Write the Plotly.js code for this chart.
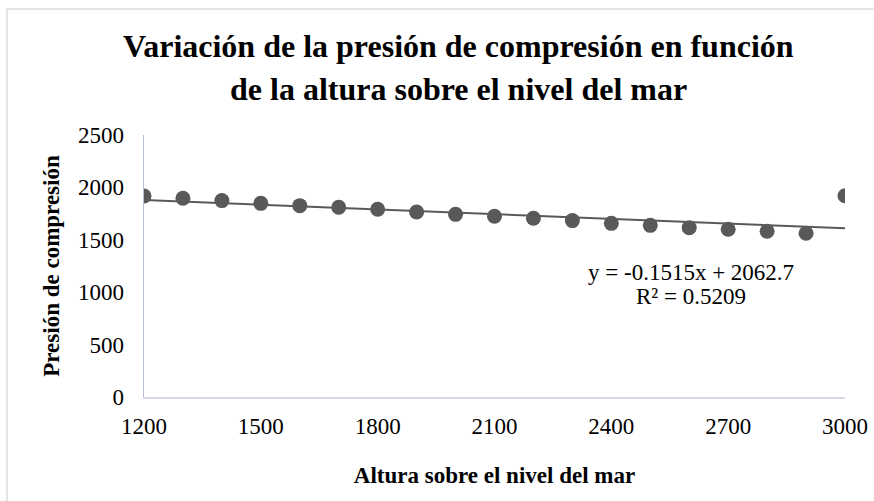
<!DOCTYPE html>
<html>
<head>
<meta charset="utf-8">
<script src="https://cdn.plot.ly/plotly-3.0.1.min.js"></script>
<style>
  html, body { margin: 0; padding: 0; background: #ffffff; overflow: hidden; }
  #wrap { position: relative; width: 874px; height: 501px; overflow: hidden; }
  #chart { position: absolute; left: 0; top: 0; width: 874px; height: 501px; }
  #frame { position: absolute; left: 6px; top: 8px; width: 900px; height: 520px;
           border-left: 2px solid #e2e6eb; border-top: 2px solid #e2e6eb; pointer-events: none; }
</style>
</head>
<body>
<div id="wrap">
  <div id="chart"></div>
  <div id="frame"></div>
</div>
<script>
// ---- data ----
const altitudes = [1200, 1300, 1400, 1500, 1600, 1700, 1800, 1900, 2000, 2100,
                   2200, 2300, 2400, 2500, 2600, 2700, 2800, 2900, 3000];
const pressures = [1918, 1896, 1874, 1848, 1826, 1810, 1791, 1765, 1743, 1724,
                   1705, 1683, 1657, 1638, 1616, 1600, 1581, 1562, 1921];
const titleLines = ["Variación de la presión de compresión en función",
                    "de la altura sobre el nivel del mar"];
const xAxisTitle = "Altura sobre el nivel del mar";
const yAxisTitle = "Presión de compresión";
const equationLines = ["y = -0.1515x + 2062.7", "R² = 0.5209"];
const xTicks = [1200, 1500, 1800, 2100, 2400, 2700, 3000];
const yTicks = [0, 500, 1000, 1500, 2000, 2500];

// ---- linear trend line (least squares from the data) ----
const n = altitudes.length;
const mx = altitudes.reduce((a, b) => a + b, 0) / n;
const my = pressures.reduce((a, b) => a + b, 0) / n;
let sxy = 0, sxx = 0;
for (let i = 0; i < n; i++) {
  sxy += (altitudes[i] - mx) * (pressures[i] - my);
  sxx += (altitudes[i] - mx) * (altitudes[i] - mx);
}
const slope = sxy / sxx;
const intercept = my - slope * mx;
const trendX = [Math.min(...altitudes), Math.max(...altitudes)];
const trendY = trendX.map(x => intercept + slope * x);

const serif = "Liberation Serif, Times New Roman, serif";
const grey = "#595959";

const traces = [
  {
    x: trendX, y: trendY, type: "scatter", mode: "lines",
    line: { color: grey, width: 2 }, hoverinfo: "skip", showlegend: false
  },
  {
    x: altitudes, y: pressures, type: "scatter", mode: "markers",
    marker: { color: grey, size: 15, line: { width: 0 } }, showlegend: false
  }
];

const layout = {
  width: 874, height: 501,
  margin: { l: 144, r: 29, t: 135, b: 104 },
  paper_bgcolor: "#ffffff", plot_bgcolor: "#ffffff",
  font: { family: serif, color: "#000000", size: 23 },
  showlegend: false,
  xaxis: {
    range: [1200, 3000], tickvals: xTicks, ticktext: xTicks.map(String),
    showgrid: false, zeroline: false, showline: true, linecolor: "#d3dae5", linewidth: 1.5,
    ticks: "", ticklabelstandoff: 8, tickfont: { family: serif, size: 23, color: "#000" },
    title: { text: xAxisTitle, font: { family: serif, size: 23, color: "#000", weight: "bold" }, standoff: 29 }
  },
  yaxis: {
    range: [0, 2500], tickvals: yTicks, ticktext: yTicks.map(String),
    showgrid: false, zeroline: false, showline: true, linecolor: "#b4c1d6", linewidth: 1.5,
    ticks: "", ticklabelstandoff: 14, tickfont: { family: serif, size: 23, color: "#000" },
    title: { text: yAxisTitle, font: { family: serif, size: 23, color: "#000", weight: "bold" }, standoff: 12 }
  },
  annotations: [
    { xref: "paper", yref: "paper", x: 0.448, y: 1.0, yshift: 89, text: "<b>" + titleLines[0] + "</b>",
      showarrow: false, xanchor: "center", yanchor: "middle", font: { family: serif, size: 32, color: "#000" } },
    { xref: "paper", yref: "paper", x: 0.448, y: 1.0, yshift: 46, text: "<b>" + titleLines[1] + "</b>",
      showarrow: false, xanchor: "center", yanchor: "middle", font: { family: serif, size: 32, color: "#000" } },
    { xref: "paper", yref: "paper", x: 0.780, y: 0.477, text: equationLines[0],
      showarrow: false, xanchor: "center", yanchor: "middle", font: { family: serif, size: 23, color: "#000" } },
    { xref: "paper", yref: "paper", x: 0.780, y: 0.385, text: equationLines[1],
      showarrow: false, xanchor: "center", yanchor: "middle", font: { family: serif, size: 23, color: "#000" } }
  ]
};

Plotly.newPlot("chart", traces, layout, { displayModeBar: false, staticPlot: true });
</script>
</body>
</html>
